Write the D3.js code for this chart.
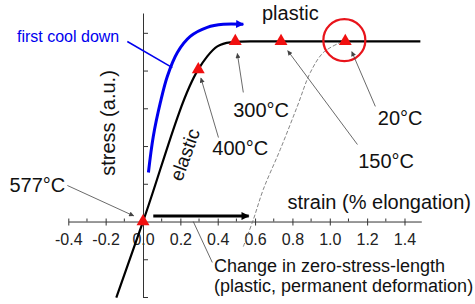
<!DOCTYPE html>
<html lang="en">
<head>
  <meta charset="UTF-8">
  <script src="https://d3js.org/d3.v7.min.js"></script>
  <title>Stress-strain on cool down</title>
  <style>
    body { margin: 0; background: #fff; }
    svg { font-family: "Liberation Sans", Arial, sans-serif; }
    .axis path, .axis line { stroke: #333; stroke-width: 1px; }
    .axis text { font-size: 16px; fill: #222; font-family: "Liberation Sans", Arial, sans-serif; }
    .lbl { font-size: 20px; fill: #111; }
    .leader { stroke: #444; stroke-width: 0.8px; fill: none; }
  </style>
</head>
<body>
  <svg></svg>
  <script>
    const WIDTH = 475
    const HEIGHT = 304

    // loading curve (elastic then plastic)
    const loadStrain = [-0.143, 0, 0.296, 0.344, 0.398, 0.468, 0.575, 1.485]
    const loadStress = [-0.403, 0, 0.806, 0.875, 0.928, 0.949, 0.955, 0.955]

    // first cool down (blue)
    const coolStrain = [0.029, 0.055, 0.093, 0.13, 0.184, 0.253, 0.344, 0.43, 0.537]
    const coolStress = [0.26, 0.451, 0.631, 0.769, 0.896, 0.981, 1.029, 1.045, 1.045]

    // unloading from 20°C (thin dashed)
    const unloadStrain = [0.537, 0.591, 0.644, 0.735, 0.826, 0.896, 0.966, 1.057]
    const unloadStress = [-0.133, 0.011, 0.17, 0.382, 0.61, 0.79, 0.896, 0.949]

    // temperature points
    const temps = ['577°C', '400°C', '300°C', '150°C', '20°C']
    const tStrain = [0, 0.296, 0.494, 0.739, 1.083]
    const tStress = [0, 0.806, 0.955, 0.955, 0.955]

    const xTicks = [-0.4, -0.2, 0, 0.2, 0.4, 0.6, 0.8, 1.0, 1.2, 1.4]
    const xTickLabels = ['-0.4', '-0.2', '0.0', '0.2', '0.4', '0.6', '0.8', '1.0', '1.2', '1.4']
    const xMinor = [-0.3, -0.1, 0.1, 0.3, 0.5, 0.7, 0.9, 1.1, 1.3]
    const yTicks = [-0.4, -0.2, 0.2, 0.4, 0.6, 0.8, 1.0]

    const x = d3.scaleLinear().domain([-0.4, 1.49]).range([68.3, 421.3])
    const y = d3.scaleLinear().domain([-0.4, 1.105]).range([297, 13])

    const svg = d3.select('svg')
      .attr('width', WIDTH)
      .attr('height', HEIGHT)

    const defs = svg.append('defs')
    function marker (id, color, w, h) {
      defs.append('marker')
        .attr('id', id)
        .attr('viewBox', '0 0 10 10')
        .attr('refX', 9).attr('refY', 5)
        .attr('markerUnits', 'userSpaceOnUse')
        .attr('markerWidth', w).attr('markerHeight', h)
        .attr('orient', 'auto')
        .append('path')
        .attr('d', 'M0,0L10,5L0,10z')
        .attr('fill', color)
    }
    marker('ah-grey', '#444', 6, 5)
    marker('ah-blue', '#0000ee', 10, 8)
    marker('ah-black', '#000', 10, 8)

    // x axis
    const xAxis = svg.append('g')
      .attr('class', 'axis')
      .attr('transform', `translate(0,${y(0)})`)
      .call(d3.axisBottom(x).tickValues(xTicks)
        .tickFormat((d, i) => xTickLabels[i])
        .tickSizeInner(4).tickSizeOuter(0).tickPadding(8))
    xAxis.selectAll('.tick line').attr('y1', -3)
    xAxis.selectAll('.minor')
      .data(xMinor)
      .enter().append('line')
      .attr('x1', (d) => x(d)).attr('x2', (d) => x(d))
      .attr('y1', -3).attr('y2', 0)

    // y axis
    const yAxis = svg.append('g')
      .attr('class', 'axis')
      .attr('transform', `translate(${x(0)},0)`)
      .call(d3.axisLeft(y).tickValues(yTicks).tickFormat('')
        .tickSizeInner(5).tickSizeOuter(0))
    yAxis.selectAll('.tick line').attr('x2', 5)

    const line = d3.line()
      .x((d) => x(d[0]))
      .y((d) => y(d[1]))
      .curve(d3.curveMonotoneX)

    // unloading dashed line
    svg.append('path')
      .datum(d3.zip(unloadStrain, unloadStress))
      .attr('d', line.curve(d3.curveCatmullRom))
      .attr('fill', 'none')
      .attr('stroke', '#777')
      .attr('stroke-width', 0.9)
      .attr('stroke-dasharray', '4,2')

    // loading curve
    svg.append('path')
      .datum(d3.zip(loadStrain, loadStress))
      .attr('d', line.curve(d3.curveMonotoneX))
      .attr('fill', 'none')
      .attr('stroke', '#000')
      .attr('stroke-width', 2.2)

    // cool down curve
    svg.append('path')
      .datum(d3.zip(coolStrain, coolStress))
      .attr('d', line.curve(d3.curveCatmullRom))
      .attr('fill', 'none')
      .attr('stroke', '#0000ee')
      .attr('stroke-width', 3)
      .attr('marker-end', 'url(#ah-blue)')

    // zero-stress-length arrow
    svg.append('line')
      .attr('x1', x(0.055)).attr('x2', x(0.566))
      .attr('y1', y(0.029)).attr('y2', y(0.029))
      .attr('stroke', '#000')
      .attr('stroke-width', 3)
      .attr('marker-end', 'url(#ah-black)')

    // red circle round the 20°C point
    svg.append('circle')
      .attr('cx', x(1.078)).attr('cy', y(0.961))
      .attr('r', 21)
      .attr('fill', 'none')
      .attr('stroke', '#e8141b')
      .attr('stroke-width', 2.2)

    // leader lines [fromStrain, fromStress, toStrain, toStress]
    const leaders = [
      [-0.405, 0.191, -0.05, 0.03],
      [0.404, 0.445, 0.31, 0.76],
      [0.537, 0.684, 0.505, 0.89],
      [1.148, 0.408, 0.775, 0.905],
      [1.244, 0.61, 1.118, 0.9]
    ]
    svg.append('g').selectAll('line')
      .data(leaders)
      .enter().append('line')
      .attr('class', 'leader')
      .attr('x1', (d) => x(d[0])).attr('y1', (d) => y(d[1]))
      .attr('x2', (d) => x(d[2])).attr('y2', (d) => y(d[3]))
      .attr('marker-end', 'url(#ah-grey)')

    svg.append('line')
      .attr('class', 'leader')
      .attr('stroke', '#222')
      .attr('x1', x(0.371)).attr('y1', y(-0.217))
      .attr('x2', x(0.269)).attr('y2', y(0))

    svg.append('line')
      .attr('x1', x(-0.084)).attr('y1', y(0.954))
      .attr('x2', x(0.157)).attr('y2', y(0.816))
      .attr('stroke', '#0000ee')
      .attr('stroke-width', 1.5)

    // triangles
    svg.append('g').selectAll('path')
      .data(d3.zip(tStrain, tStress))
      .enter().append('path')
      .attr('transform', (d) => `translate(${x(d[0])},${y(d[1])})`)
      .attr('d', d3.symbol().type(d3.symbolTriangle).size(72))
      .attr('fill', '#f01010')

    // temperature labels [strain, stress, anchor]
    const tLabelPos = [
      [-0.416, 0.159, 'end'],
      [0.371, 0.353, 'start'],
      [0.483, 0.555, 'start'],
      [1.152, 0.286, 'start'],
      [1.257, 0.514, 'start']
    ]
    svg.append('g').selectAll('text')
      .data(temps)
      .enter().append('text')
      .attr('class', 'lbl')
      .attr('x', (d, i) => x(tLabelPos[i][0]))
      .attr('y', (d, i) => y(tLabelPos[i][1]))
      .attr('text-anchor', (d, i) => tLabelPos[i][2])
      .text((d) => d)

    svg.append('text').attr('class', 'lbl')
      .attr('x', 262).attr('y', 20)
      .text('plastic')

    svg.append('text')
      .attr('x', 17).attr('y', 42)
      .attr('font-size', 16).attr('fill', '#0000ee')
      .text('first cool down')

    svg.append('text').attr('class', 'lbl')
      .attr('text-anchor', 'middle')
      .attr('transform', 'translate(115,123) rotate(-90)')
      .text('stress (a.u.)')

    svg.append('text').attr('class', 'lbl')
      .attr('font-size', 19)
      .attr('text-anchor', 'middle')
      .attr('transform', 'translate(191,157) rotate(-70)')
      .style('font-size', '19px')
      .text('elastic')

    svg.append('text').attr('class', 'lbl')
      .attr('x', 471).attr('y', 209)
      .attr('text-anchor', 'end')
      .text('strain (% elongation)')

    svg.append('text').attr('class', 'lbl')
      .attr('x', 214).attr('y', 272)
      .style('font-size', '18px')
      .text('Change in zero-stress-length')
    svg.append('text').attr('class', 'lbl')
      .attr('x', 214).attr('y', 292)
      .style('font-size', '18px')
      .text('(plastic, permanent deformation)')
  </script>
</body>
</html>
